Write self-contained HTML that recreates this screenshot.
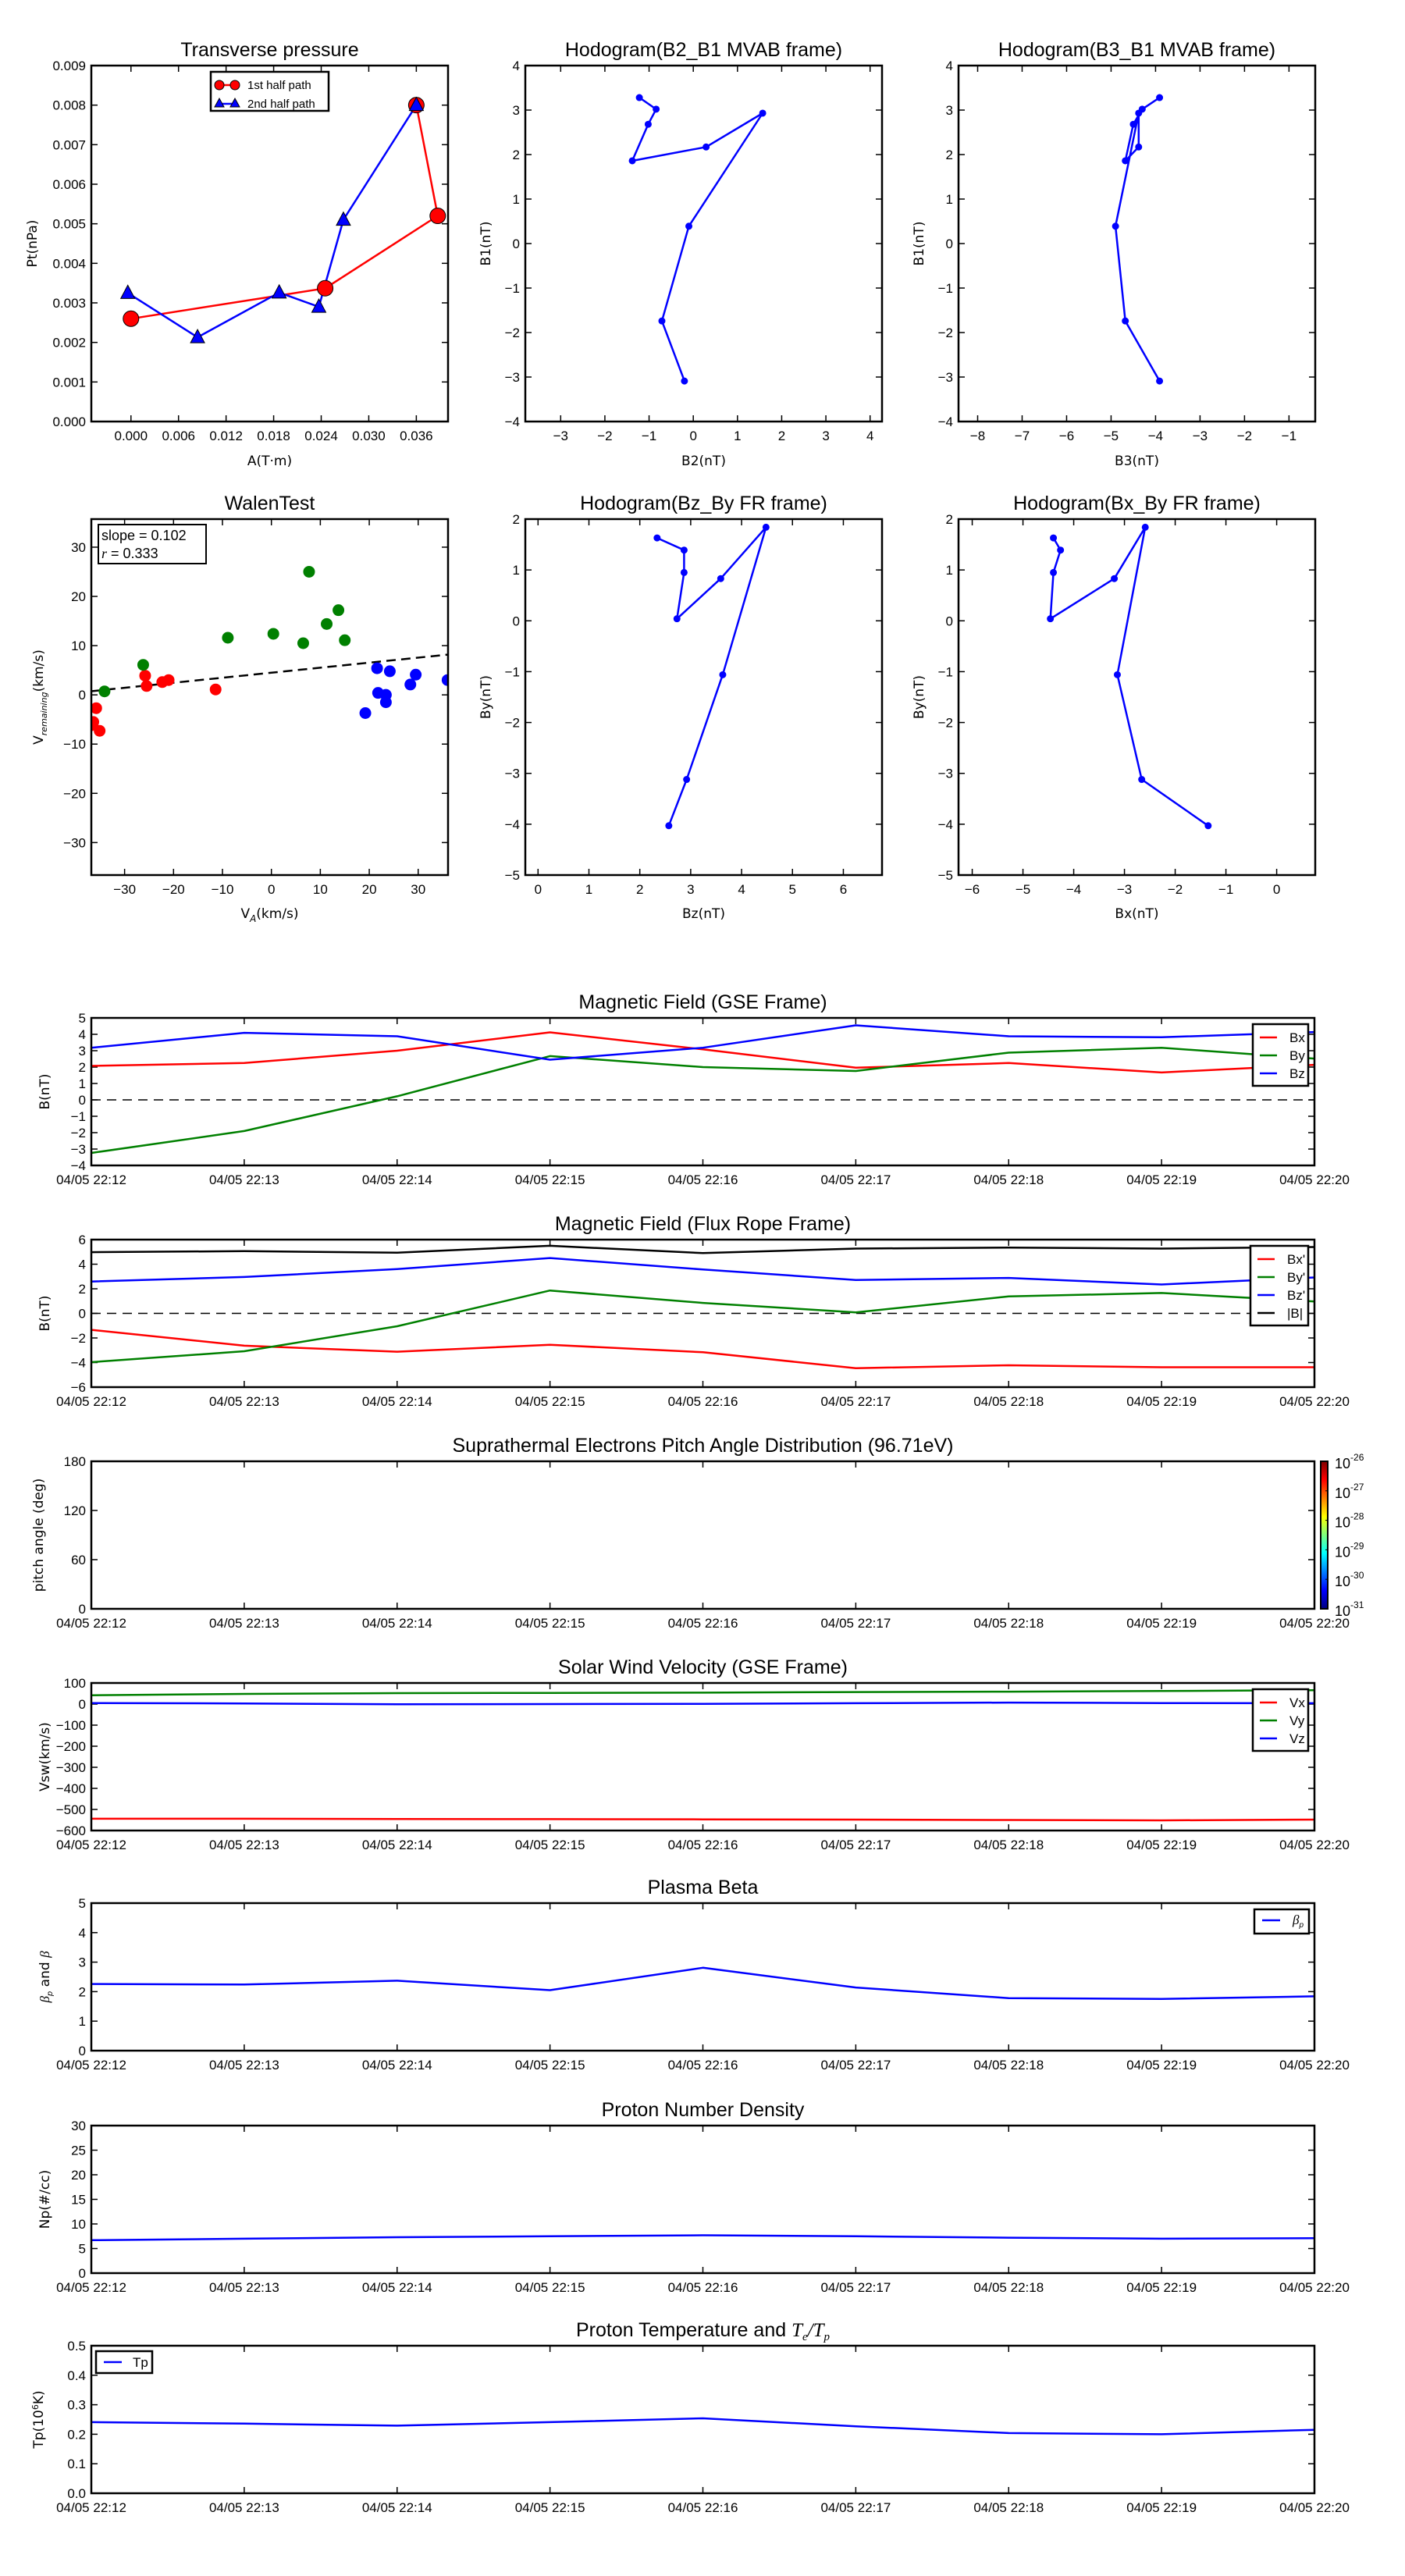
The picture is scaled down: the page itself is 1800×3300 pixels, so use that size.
<!DOCTYPE html>
<html><head><meta charset="utf-8">
<style>
html,body{margin:0;padding:0;background:#fff;}
svg{display:block;font-family:"Liberation Sans","DejaVu Sans",sans-serif;}
.tk{font-size:17px;fill:#000;}
.ttl{font-size:25px;fill:#000;}
.lab{font-size:17px;fill:#000;font-family:"DejaVu Sans","Liberation Sans",sans-serif;}
</style></head>
<body>
<svg id="chart" width="1800" height="3300" viewBox="0 0 1800 3300" xmlns="http://www.w3.org/2000/svg">
<rect x="0" y="0" width="1800" height="3300" fill="#fff"/>
</svg>
<script>
// ---------- DATA ----------
const ptRedA=[0.0000,0.0245,0.0387,0.0360];
const ptRedP=[0.0026,0.00337,0.0052,0.0080];
const ptBlueA=[-0.0004,0.0084,0.0187,0.0237,0.0268,0.0360];
const ptBlueP=[0.00325,0.00213,0.00326,0.0029,0.0051,0.0080];
const ptXTicks=[0,0.006,0.012,0.018,0.024,0.030,0.036];
const ptXTickLabels=['0.000','0.006','0.012','0.018','0.024','0.030','0.036'];
const ptYTicks=[0,0.001,0.002,0.003,0.004,0.005,0.006,0.007,0.008,0.009];
const ptYTickLabels=['0.000','0.001','0.002','0.003','0.004','0.005','0.006','0.007','0.008','0.009'];

const mvB1=[3.28,3.02,2.68,1.86,2.17,2.93,0.39,-1.74,-3.09];
const mvB2=[-1.22,-0.84,-1.02,-1.38,0.29,1.57,-0.10,-0.71,-0.20];
const mvB3=[-3.91,-4.30,-4.50,-4.68,-4.38,-4.38,-4.90,-4.68,-3.91];

const frBy=[1.63,1.39,0.95,0.04,0.83,1.84,-1.06,-3.12,-4.03];
const frBz=[2.34,2.87,2.87,2.73,3.59,4.48,3.63,2.92,2.57];
const frBx=[-4.40,-4.26,-4.40,-4.46,-3.20,-2.59,-3.14,-2.66,-1.35];

const walenRedX=[-35.8,-36.4,-36.9,-35.1,-25.8,-25.5,-22.3,-21.0,-11.4];
const walenRedY=[-2.7,-5.5,-6.2,-7.3,3.9,1.8,2.6,3.0,1.1];
const walenGreenX=[-34.1,-26.2,-8.9,0.4,6.5,7.7,11.3,13.7,15.0];
const walenGreenY=[0.7,6.1,11.6,12.4,10.5,25.0,14.4,17.2,11.1];
const walenBlueX=[19.2,21.6,21.8,23.4,23.4,24.2,28.4,29.5,36.0];
const walenBlueY=[-3.7,5.4,0.4,0.0,-1.5,4.8,2.1,4.1,3.0];
const walenSlope=0.102;
const walenIntercept=4.5;

const timeLabels=['04/05 22:12','04/05 22:13','04/05 22:14','04/05 22:15','04/05 22:16','04/05 22:17','04/05 22:18','04/05 22:19','04/05 22:20'];
const gseBx=[2.07,2.25,3.0,4.12,3.08,1.96,2.25,1.67,2.14];
const gseBy=[-3.24,-1.9,0.22,2.67,2.0,1.76,2.88,3.18,2.52];
const gseBz=[3.18,4.09,3.88,2.45,3.18,4.55,3.88,3.82,4.14];
const frpBx=[-1.34,-2.63,-3.12,-2.55,-3.16,-4.46,-4.22,-4.38,-4.38];
const frpBy=[-3.97,-3.08,-1.05,1.86,0.85,0.08,1.38,1.66,0.97];
const frpBz=[2.59,2.96,3.6,4.5,3.57,2.72,2.88,2.35,2.92];
const frpBt=[4.98,5.06,4.94,5.5,4.9,5.27,5.35,5.27,5.4];
const swVx=[-544,-544,-545,-546,-547,-548,-550,-552,-548];
const swVy=[42,48,52,53,54,57,59,62,66];
const swVz=[5,3,-1,0,1,4,7,5,4];
const betaP=[2.26,2.24,2.37,2.05,2.81,2.14,1.78,1.75,1.84];
const npVals=[6.7,7.0,7.3,7.5,7.7,7.5,7.2,7.0,7.1];
const tpVals=[0.241,0.236,0.229,0.241,0.254,0.227,0.204,0.200,0.215];

// ---------- HELPERS ----------
const NS='http://www.w3.org/2000/svg';
const svg=document.getElementById('chart');
function mk(tag,attrs,parent){const e=document.createElementNS(NS,tag);for(const k in attrs)e.setAttribute(k,attrs[k]);(parent||svg).appendChild(e);return e;}
function txt(str,x,y,cls,anchor,parent){const t=mk('text',{x:x,y:y,'class':cls,'text-anchor':anchor||'middle'},parent);t.textContent=str;return t;}
function fmt(v){const s=String(v);return s.charAt(0)==='-'?'\u2212'+s.slice(1):s;}

function axes(name,x0,y0,w,h,xl,yl,xt,xtl,yt,ytl){
  const g=mk('g',{});
  
  
  const sx=v=>x0+(v-xl[0])/(xl[1]-xl[0])*w;
  const sy=v=>y0+h-(v-yl[0])/(yl[1]-yl[0])*h;
  const tg=mk('g',{stroke:'#000','stroke-width':1.5},g);
  xt.forEach((v,i)=>{
    const x=sx(v);
    mk('line',{x1:x,x2:x,y1:y0+h,y2:y0+h-8},tg);
    mk('line',{x1:x,x2:x,y1:y0,y2:y0+8},tg);
    const t=txt(xtl[i],x,y0+h+24,'tk','middle',g);
    
    
  });
  yt.forEach((v,i)=>{
    const y=sy(v);
    mk('line',{x1:x0,x2:x0+8,y1:y,y2:y},tg);
    mk('line',{x1:x0+w,x2:x0+w-8,y1:y,y2:y},tg);
    const t=txt(ytl[i],x0-7,y+6,'tk','end',g);
    
    
  });
  const plot=mk('g',{},g);
  const fr=mk('rect',{x:x0,y:y0,width:w,height:h,fill:'none',stroke:'#000','stroke-width':2.5},g);
  
  
  return {g,plot,sx,sy,x0,y0,w,h};
}
function title(ax,str,dy){const t=txt(str,ax.x0+ax.w/2,ax.y0-(dy||12),'ttl','middle',ax.g);return t;}
function xlabel(ax,str,y){const t=txt(str,ax.x0+ax.w/2,y,'lab','middle',ax.g);return t;}
function ylabel(ax,str,x){const cy=ax.y0+ax.h/2;const t=mk('text',{x:x,y:cy,'class':'lab','text-anchor':'middle',transform:'rotate(-90 '+x+' '+cy+')'},ax.g);t.textContent=str;return t;}
function line(ax,xs,ys,color,sw){const pts=xs.map((x,i)=>ax.sx(x).toFixed(1)+','+ax.sy(ys[i]).toFixed(1)).join(' ');return mk('polyline',{points:pts,fill:'none',stroke:color,'stroke-width':sw||2.5,'stroke-linejoin':'round'},ax.plot);}
function range(n){return Array.from({length:n},(_,i)=>i);}
function ticks(a,b,s){const r=[];for(let v=a;v<=b+1e-9;v+=s)r.push(Math.round(v*1000)/1000);return r;}
function dots(ax,xs,ys,color,r,name){xs.forEach((x,i)=>{const c=mk('circle',{cx:ax.sx(x),cy:ax.sy(ys[i]),r:r,fill:color,stroke:color},ax.plot);});}

// ---------- ROW 1 ----------
const RW=457, R1Y=84, RH=456, R2Y=665;
const PX=[117,673,1228];

// Transverse pressure
let ax=axes('transverse-pressure-chart',PX[0],R1Y,RW,RH,[-0.005,0.040],[0,0.009],ptXTicks,ptXTickLabels,ptYTicks,ptYTickLabels);
title(ax,'Transverse pressure');xlabel(ax,'A(T\u00b7m)',596);ylabel(ax,'Pt(nPa)',47);
let l=line(ax,ptRedA,ptRedP,'#f00',2.5);


l=line(ax,ptBlueA,ptBlueP,'#00f',2.5);


ptRedA.forEach((a,i)=>{const c=mk('circle',{cx:ax.sx(a),cy:ax.sy(ptRedP[i]),r:10,fill:'#f00',stroke:'#000','stroke-width':1},ax.plot);});
ptBlueA.forEach((a,i)=>{const x=ax.sx(a),y=ax.sy(ptBlueP[i]);const p=mk('polygon',{points:`${x},${y-10} ${x-9},${y+7} ${x+9},${y+7}`,fill:'#00f',stroke:'#000','stroke-width':1},ax.plot);});
{
  const lg=mk('g',{},ax.g);
  
  
  mk('rect',{x:270,y:92,width:151,height:50,fill:'#fff',stroke:'#000','stroke-width':2.5},lg);
  mk('line',{x1:281,x2:301,y1:109,y2:109,stroke:'#f00','stroke-width':2.5},lg);
  mk('circle',{cx:281,cy:109,r:6,fill:'#f00',stroke:'#000'},lg);mk('circle',{cx:301,cy:109,r:6,fill:'#f00',stroke:'#000'},lg);
  mk('line',{x1:281,x2:301,y1:133,y2:133,stroke:'#00f','stroke-width':2.5},lg);
  mk('polygon',{points:'281,126 275,137 287,137',fill:'#00f',stroke:'#000'},lg);mk('polygon',{points:'301,126 295,137 307,137',fill:'#00f',stroke:'#000'},lg);
  let t=txt('1st half path',317,114,'tk','start',lg);t.style.fontSize='15px';
  t=txt('2nd half path',317,138,'tk','start',lg);t.style.fontSize='15px';
}

// Hodogram B2_B1
const b1T=ticks(-4,4,1);
ax=axes('hodogram-b2-b1-chart',PX[1],R1Y,RW,RH,[-3.8,4.27],[-4,4],ticks(-3,4,1),ticks(-3,4,1).map(fmt),b1T,b1T.map(fmt));
title(ax,'Hodogram(B2_B1 MVAB frame)');xlabel(ax,'B2(nT)',596);ylabel(ax,'B1(nT)',628);
l=line(ax,mvB2,mvB1,'#00f',2.5);
dots(ax,mvB2,mvB1,'#00f',4,'b2-b1-point');

// Hodogram B3_B1
ax=axes('hodogram-b3-b1-chart',PX[2],R1Y,RW,RH,[-8.43,-0.41],[-4,4],ticks(-8,-1,1),ticks(-8,-1,1).map(fmt),b1T,b1T.map(fmt));
title(ax,'Hodogram(B3_B1 MVAB frame)');xlabel(ax,'B3(nT)',596);ylabel(ax,'B1(nT)',1183);
l=line(ax,mvB3,mvB1,'#00f',2.5);
dots(ax,mvB3,mvB1,'#00f',4,'b3-b1-point');

// ---------- ROW 2 ----------
// Walen test
const wT=ticks(-30,30,10);
ax=axes('walen-test-chart',PX[0],R2Y,RW,RH,[-36.8,36.1],[-36.6,35.7],wT,wT.map(fmt),wT,wT.map(fmt));
title(ax,'WalenTest');
{
  const t=mk('text',{x:ax.x0+ax.w/2,y:1176,'class':'lab','text-anchor':'middle'},ax.g);
  t.innerHTML='V<tspan font-size="12" dy="5" font-style="italic">A</tspan><tspan dy="-5">(km/s)</tspan>';
  
  
  const cy=ax.y0+ax.h/2;
  const t2=mk('text',{x:55,y:cy,'class':'lab','text-anchor':'middle',transform:'rotate(-90 55 '+cy+')'},ax.g);
  t2.innerHTML='V<tspan font-size="11" dy="5" font-style="italic">remaining</tspan><tspan dy="-5">(km/s)</tspan>';
  
  
}
{
  const fx=[-36.8,36.1];
  const fitL=mk('line',{x1:ax.sx(fx[0]),y1:ax.sy(walenIntercept+walenSlope*fx[0]),x2:ax.sx(fx[1]),y2:ax.sy(walenIntercept+walenSlope*fx[1]),stroke:'#000','stroke-width':2.5,'stroke-dasharray':'12 7'},ax.plot);
  
  
}
const clipW=mk('clipPath',{id:'cw'});mk('rect',{x:ax.x0,y:ax.y0,width:ax.w,height:ax.h},clipW);
ax.plot.setAttribute('clip-path','url(#cw)');
dots(ax,walenRedX,walenRedY,'#f00',7,'walen-point-red');
dots(ax,walenGreenX,walenGreenY,'#008000',7,'walen-point-green');
dots(ax,walenBlueX,walenBlueY,'#00f',7,'walen-point-blue');
{
  const lg=mk('g',{},ax.g);
  
  
  mk('rect',{x:126,y:672,width:138,height:50,fill:'#fff',stroke:'#000','stroke-width':2},lg);
  let t=txt('slope = '+walenSlope,130,692,'tk','start',lg);t.style.fontSize='18px';
  t=mk('text',{x:130,y:715,'class':'tk'},lg);t.innerHTML='<tspan font-style="italic" font-family="Liberation Serif">r</tspan> = 0.333';t.style.fontSize='18px';
}

// Hodogram Bz_By
const byT=ticks(-5,2,1);
ax=axes('hodogram-bz-by-chart',PX[1],R2Y,RW,RH,[-0.25,6.76],[-5,2],ticks(0,6,1),ticks(0,6,1).map(fmt),byT,byT.map(fmt));
title(ax,'Hodogram(Bz_By FR frame)');xlabel(ax,'Bz(nT)',1176);ylabel(ax,'By(nT)',628);
l=line(ax,frBz,frBy,'#00f',2.5);
dots(ax,frBz,frBy,'#00f',4,'bz-by-point');

// Hodogram Bx_By
ax=axes('hodogram-bx-by-chart',PX[2],R2Y,RW,RH,[-6.27,0.76],[-5,2],ticks(-6,0,1),ticks(-6,0,1).map(fmt),byT,byT.map(fmt));
title(ax,'Hodogram(Bx_By FR frame)');xlabel(ax,'Bx(nT)',1176);ylabel(ax,'By(nT)',1183);
l=line(ax,frBx,frBy,'#00f',2.5);
dots(ax,frBx,frBy,'#00f',4,'bx-by-point');

// ---------- TIME SERIES ----------
const TX=117, TW=1567, TH=189;
const tIdx=range(timeLabels.length);
function tpanel(name,top,yl,yt,ytl,ttl,ylab,ylx){
  const a=axes(name,TX,top,TW,TH,[0,8],yl,tIdx,timeLabels,yt,ytl);
  title(a,ttl,12);ylabel(a,ylab,ylx||63);return a;
}
function zeroLine(a){const z=mk('line',{x1:a.x0,x2:a.x0+a.w,y1:a.sy(0),y2:a.sy(0),stroke:'#000','stroke-width':1.5,'stroke-dasharray':'12 8'},a.plot);}
function legend(a,x,y,w,entries,name){
  const lg=mk('g',{},a.g);
  
  
  const h=entries.length*23+10;
  mk('rect',{x:x,y:y,width:w,height:h,fill:'#fff',stroke:'#000','stroke-width':2.5},lg);
  entries.forEach((e,i)=>{const yy=y+17+i*23;mk('line',{x1:x+9,x2:x+31,y1:yy,y2:yy,stroke:e[1],'stroke-width':2.5},lg);const t=txt(e[0],x+47,yy+6,'tk','start',lg);});
}
function series(a,vals,color,name){const p=line(a,tIdx,vals,color,2.5);}

let tops=[1304,1588,1872,2156,2438,2723,3005];
let gT=ticks(-4,5,1);
ax=tpanel('gse-magnetic-field-chart',tops[0],[-4,5],gT,gT.map(fmt),'Magnetic Field (GSE Frame)','B(nT)');
zeroLine(ax);series(ax,gseBx,'#f00','bx-line');series(ax,gseBy,'#008000','by-line');series(ax,gseBz,'#00f','bz-line');
legend(ax,1605,1312,71,[['Bx','#f00'],['By','#008000'],['Bz','#00f']],'gse-legend');

gT=ticks(-6,6,2);
ax=tpanel('flux-rope-magnetic-field-chart',tops[1],[-6,6],gT,gT.map(fmt),'Magnetic Field (Flux Rope Frame)','B(nT)');
zeroLine(ax);series(ax,frpBx,'#f00','bx-prime-line');series(ax,frpBy,'#008000','by-prime-line');series(ax,frpBz,'#00f','bz-prime-line');series(ax,frpBt,'#000','b-total-line');
legend(ax,1602,1596,74,[["Bx'",'#f00'],["By'",'#008000'],["Bz'",'#00f'],['|B|','#000']],'flux-rope-legend');

gT=[0,60,120,180];
ax=tpanel('pitch-angle-chart',tops[2],[0,180],gT,gT.map(String),'Suprathermal Electrons Pitch Angle Distribution (96.71eV)','pitch angle (deg)',55);
{
  const defs=mk('defs',{});
  const lgd=mk('linearGradient',{id:'jet',x1:0,y1:1,x2:0,y2:0},defs);
  ['#00007f','#0000ff','#007fff','#00ffff','#7fff7f','#ffff00','#ff7f00','#ff0000','#7f0000'].forEach((c,i)=>mk('stop',{offset:(i/8),'stop-color':c},lgd));
  const cb=mk('g',{});
  
  
  mk('rect',{x:1692,y:1872,width:9,height:189,fill:'url(#jet)',stroke:'#000','stroke-width':2},cb);
  const cbLabels=['-26','-27','-28','-29','-30','-31'];
  cbLabels.forEach((s,i)=>{const y=1872+i*37.8;mk('line',{x1:1698,x2:1701,y1:y,y2:y,stroke:'#000'},cb);const t=mk('text',{x:1710,y:y+9,'class':'tk'},cb);t.innerHTML='10<tspan font-size="12" dy="-10">'+s+'</tspan>';t.style.fontSize='18px';});
}

gT=ticks(-600,100,100);
ax=tpanel('solar-wind-velocity-chart',tops[3],[-600,100],gT,gT.map(fmt),'Solar Wind Velocity (GSE Frame)','Vsw(km/s)');
series(ax,swVx,'#f00','vx-line');series(ax,swVy,'#008000','vy-line');series(ax,swVz,'#00f','vz-line');
legend(ax,1605,2164,71,[['Vx','#f00'],['Vy','#008000'],['Vz','#00f']],'velocity-legend');

gT=ticks(0,5,1);
ax=tpanel('plasma-beta-chart',tops[4],[0,5],gT,gT.map(String),'Plasma Beta','',63);
{
  const cy=ax.y0+ax.h/2;
  const t=mk('text',{x:63,y:cy,'class':'lab','text-anchor':'middle',transform:'rotate(-90 63 '+cy+')'},ax.g);
  t.innerHTML='<tspan font-style="italic" font-family="Liberation Serif">\u03b2</tspan><tspan font-size="10" dy="4" font-style="italic">p</tspan><tspan dy="-4"> and </tspan><tspan font-style="italic" font-family="Liberation Serif">\u03b2</tspan>';
  
  
}
series(ax,betaP,'#00f','beta-p-line');
{
  const lg=mk('g',{},ax.g);
  
  
  mk('rect',{x:1607,y:2446,width:70,height:31,fill:'#fff',stroke:'#000','stroke-width':2.5},lg);
  mk('line',{x1:1617,x2:1640,y1:2460,y2:2460,stroke:'#00f','stroke-width':2.5},lg);
  const t=mk('text',{x:1656,y:2465,'class':'tk','fill':'#555'},lg);t.innerHTML='<tspan font-style="italic" font-family="Liberation Serif">\u03b2</tspan><tspan font-size="10" dy="4" font-style="italic">p</tspan>';
}

gT=ticks(0,30,5);
ax=tpanel('proton-density-chart',tops[5],[0,30],gT,gT.map(String),'Proton Number Density','Np(#/cc)');
series(ax,npVals,'#00f','np-line');

gT=[0,0.1,0.2,0.3,0.4,0.5];
ax=tpanel('proton-temperature-chart',tops[6],[0,0.5],gT,['0.0','0.1','0.2','0.3','0.4','0.5'],'','',55);
{
  const t=mk('text',{x:ax.x0+ax.w/2,y:ax.y0-12,'class':'ttl','text-anchor':'middle'},ax.g);
  t.innerHTML='Proton Temperature and <tspan font-family="Liberation Serif" font-style="italic">T</tspan><tspan font-family="Liberation Serif" font-style="italic" font-size="15" dy="5">e</tspan><tspan font-family="Liberation Serif" font-style="italic" dy="-5">/T</tspan><tspan font-family="Liberation Serif" font-style="italic" font-size="15" dy="5">p</tspan>';
  
  
  const cy=ax.y0+ax.h/2;
  const t2=mk('text',{x:55,y:cy,'class':'lab','text-anchor':'middle',transform:'rotate(-90 55 '+cy+')'},ax.g);
  t2.innerHTML='Tp(10<tspan font-size="11" dy="-6">6</tspan><tspan dy="6">K)</tspan>';
  
  
}
series(ax,tpVals,'#00f','tp-line');
{
  const lg=mk('g',{},ax.g);
  
  
  mk('rect',{x:123,y:3012,width:72,height:28,fill:'#fff',stroke:'#000','stroke-width':2.5},lg);
  mk('line',{x1:133,x2:156,y1:3026,y2:3026,stroke:'#00f','stroke-width':2.5},lg);
  const t=txt('Tp',170,3032,'tk','start',lg);
}
</script>
</body></html>
